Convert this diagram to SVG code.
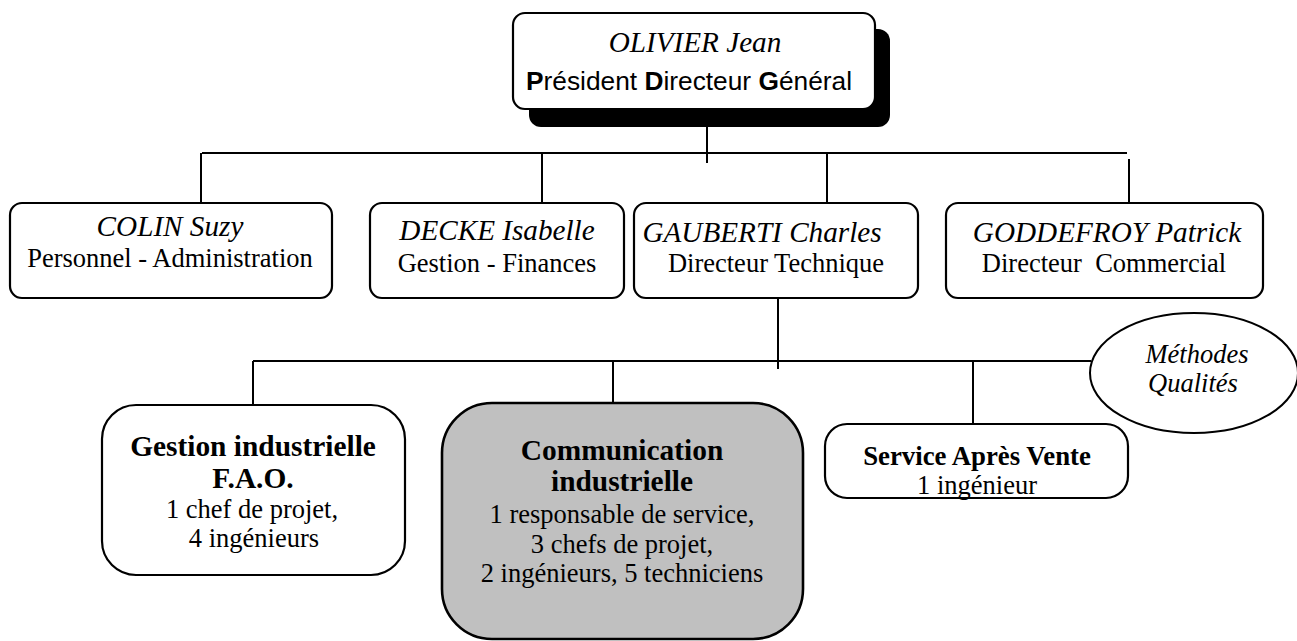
<svg xmlns="http://www.w3.org/2000/svg" width="1297" height="641" viewBox="0 0 1297 641">
<style>
.box{fill:#fff;stroke:#000;stroke-width:2.2}
.gray{fill:#c0c0c0;stroke:#000;stroke-width:2.6}
.ln{stroke:#000;stroke-width:2;fill:none}
.t{font-family:"Liberation Serif","Times New Roman",serif;font-size:26.5px;fill:#000;text-anchor:middle}
.i{font-style:italic;font-size:29.2px}
.b{font-weight:bold;font-size:29.4px}
.a{font-family:"Liberation Sans",Arial,sans-serif;font-size:26.3px;fill:#000;text-anchor:middle}
</style>
<rect width="1297" height="641" fill="#fff"/>
<g id="connectors">
<line class="ln" x1="707" y1="127" x2="707" y2="163"/>
<line class="ln" x1="202" y1="153" x2="1127" y2="153"/>
<line class="ln" x1="201" y1="153" x2="201" y2="203"/>
<line class="ln" x1="542" y1="153" x2="542" y2="203"/>
<line class="ln" x1="827" y1="153" x2="827" y2="203"/>
<line class="ln" x1="1129" y1="159" x2="1129" y2="203"/>
<line class="ln" x1="778" y1="298" x2="778" y2="369"/>
<line class="ln" x1="253" y1="361" x2="1091" y2="361"/>
<line class="ln" x1="253" y1="361" x2="253" y2="410"/>
<line class="ln" x1="613" y1="361" x2="613" y2="403"/>
<line class="ln" x1="973" y1="361" x2="973" y2="424"/>
</g>
<g id="pdg">
<rect x="529" y="29" width="361" height="98" rx="12" fill="#000"/>
<rect class="box" x="513" y="13" width="362" height="96" rx="12"/>
<text class="t i" x="695" y="52">OLIVIER Jean</text>
<text class="a" x="689" y="90"><tspan font-weight="bold">P</tspan>résident <tspan font-weight="bold">D</tspan>irecteur <tspan font-weight="bold">G</tspan>énéral</text>
</g>
<g id="colin">
<rect class="box" x="10" y="203" width="322" height="95" rx="12"/>
<text class="t i" x="170" y="236">COLIN Suzy</text>
<text class="t" x="170" y="267">Personnel - Administration</text>
</g>
<g id="decke">
<rect class="box" x="370" y="203" width="254" height="95" rx="12"/>
<text class="t i" x="497" y="240">DECKE Isabelle</text>
<text class="t" x="497" y="272">Gestion - Finances</text>
</g>
<g id="gauberti">
<rect class="box" x="634" y="203" width="284" height="95" rx="12"/>
<text class="t i" x="762" y="242">GAUBERTI Charles</text>
<text class="t" x="776" y="272">Directeur Technique</text>
</g>
<g id="goddefroy">
<rect class="box" x="946" y="203" width="317" height="95" rx="12"/>
<text class="t i" x="1107" y="242">GODDEFROY Patrick</text>
<text class="t" x="1104" y="272" xml:space="preserve">Directeur  Commercial</text>
</g>
<g id="gestion">
<rect class="box" x="102" y="405" width="303" height="170" rx="34"/>
<text class="t b" x="253" y="456">Gestion industrielle</text>
<text class="t b" x="253" y="488">F.A.O.</text>
<text class="t" x="252" y="518">1 chef de projet,</text>
<text class="t" x="254" y="547">4 ingénieurs</text>
</g>
<g id="communication">
<rect class="gray" x="442" y="403" width="361" height="236" rx="50"/>
<text class="t b" x="622" y="460">Communication</text>
<text class="t b" x="622" y="491">industrielle</text>
<text class="t" x="622" y="523">1 responsable de service,</text>
<text class="t" x="622" y="553">3 chefs de projet,</text>
<text class="t" x="622" y="582">2 ingénieurs, 5 techniciens</text>
</g>
<g id="sav">
<rect class="box" x="825" y="424" width="303" height="74" rx="22"/>
<text class="t b" x="977" y="465" style="font-size:26.8px">Service Après Vente</text>
<text class="t" x="977" y="494">1 ingénieur</text>
</g>
<g id="methodes">
<ellipse cx="1194" cy="373" rx="104" ry="60" fill="#fff" stroke="#000" stroke-width="2"/>
<text class="t i" x="1197" y="363" style="font-size:26.5px">Méthodes</text>
<text class="t i" x="1193" y="392" style="font-size:26.5px">Qualités</text>
</g>
</svg>
